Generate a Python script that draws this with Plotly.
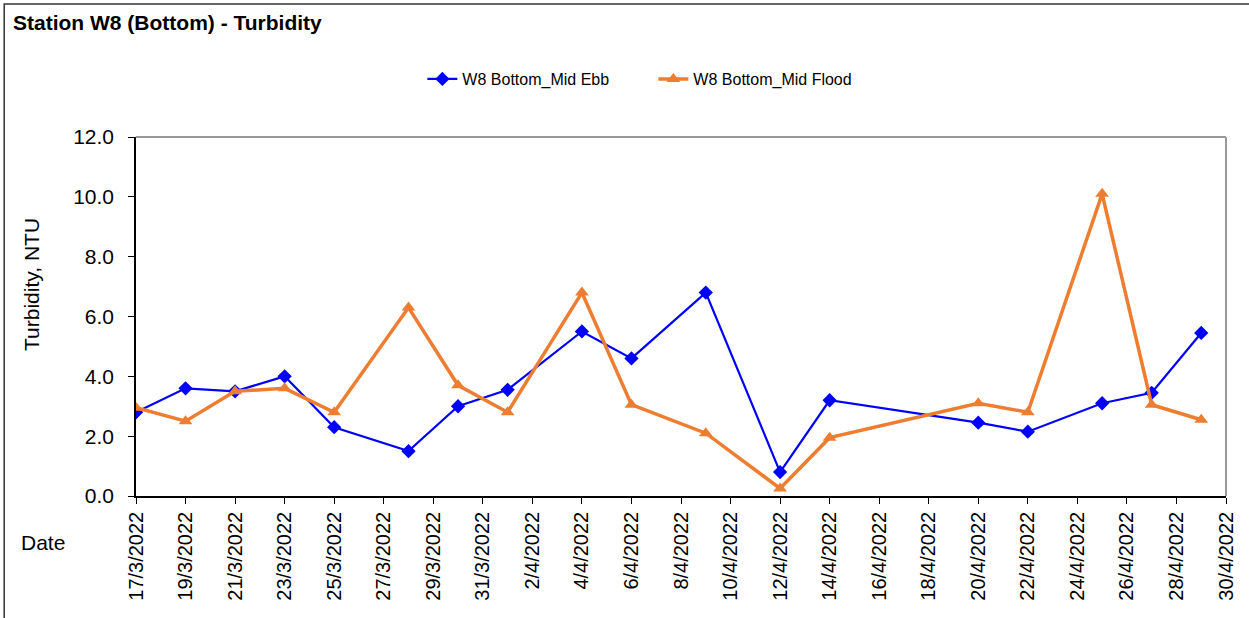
import plotly.graph_objects as go

# Sampling dates and turbidity readings (NTU)
dates = ["2022-03-17", "2022-03-19", "2022-03-21", "2022-03-23", "2022-03-25",
         "2022-03-28", "2022-03-30", "2022-04-01", "2022-04-04", "2022-04-06",
         "2022-04-09", "2022-04-12", "2022-04-14", "2022-04-20", "2022-04-22",
         "2022-04-25", "2022-04-27", "2022-04-29"]
mid_ebb = [2.8, 3.6, 3.5, 4.0, 2.3, 1.5, 3.0, 3.55, 5.5, 4.6,
           6.8, 0.8, 3.2, 2.45, 2.15, 3.1, 3.45, 5.45]
mid_flood = [2.95, 2.5, 3.5, 3.6, 2.8, 6.3, 3.7, 2.8, 6.8, 3.05,
             2.1, 0.25, 1.95, 3.1, 2.8, 10.1, 3.05, 2.55]

font_family = "Liberation Sans, Arial, sans-serif"

# plot area in pixels
L, R, T, B = 136, 1236, 137, 496
PW, PH = R - L, B - T


def px(x):
    return (x - L) / PW


def py(y):
    return (B - y) / PH


fig = go.Figure()

fig.add_trace(go.Scatter(
    x=dates, y=mid_ebb, mode="lines+markers",
    name="W8 Bottom_Mid Ebb",
    line=dict(color="#0000FF", width=2.2),
    marker=dict(symbol="diamond", size=11, color="#0000FF"),
))
fig.add_trace(go.Scatter(
    x=dates, y=mid_flood, mode="lines+markers",
    name="W8 Bottom_Mid Flood",
    line=dict(color="#ED7D31", width=3.5),
    marker=dict(symbol="triangle-up", size=12, color="#ED7D31"),
))

# outer chart border
fig.add_shape(type="rect", xref="paper", yref="paper",
              x0=px(3), x1=px(1260), y0=py(640), y1=py(4),
              line=dict(color="#333333", width=1.5), layer="below")

fig.add_annotation(text="<b>Station W8 (Bottom) - Turbidity</b>",
                   xref="paper", yref="paper", x=px(10), y=py(23),
                   xanchor="left", yanchor="middle", showarrow=False,
                   font=dict(size=21, color="black", family=font_family))
fig.add_annotation(text="Date", xref="paper", yref="paper",
                   x=px(42), y=py(542), xanchor="center", yanchor="middle",
                   showarrow=False,
                   font=dict(size=21, color="black", family=font_family))
fig.add_annotation(text="Turbidity, NTU", xref="paper", yref="paper",
                   x=px(30), y=py(284), xanchor="center", yanchor="middle",
                   textangle=-90, showarrow=False,
                   font=dict(size=21, color="black", family=font_family))

fig.update_layout(
    width=1249, height=618,
    margin=dict(l=L, r=1249 - R, t=T, b=618 - B),
    paper_bgcolor="white", plot_bgcolor="white",
    font=dict(family=font_family, color="black"),
    showlegend=True,
    legend=dict(orientation="h", x=px(425), y=py(79),
                xanchor="left", yanchor="middle",
                font=dict(size=16, color="black"),
                entrywidth=186, entrywidthmode="pixels",
                traceorder="normal"),
)

fig.update_xaxes(
    type="date",
    range=["2022-03-17", "2022-04-30"],
    tick0="2022-03-17", dtick=2 * 86400000,
    tickformat="%-d/%-m/%Y", tickangle=-90,
    tickfont=dict(size=20),
    ticks="outside", ticklen=6, tickcolor="black",
    showline=True, linecolor="black", linewidth=1.5,
    mirror=False, showgrid=False, zeroline=False,
)
fig.update_yaxes(
    range=[0, 12], dtick=2, tickformat=".1f",
    tickfont=dict(size=21), ticklabelstandoff=10,
    ticks="outside", ticklen=6, tickcolor="black",
    showline=True, linecolor="black", linewidth=1.5,
    showgrid=False, zeroline=False,
)

# grey top/right plot-area border
fig.add_shape(type="line", xref="paper", yref="paper", x0=0, x1=1, y0=1, y1=1,
              line=dict(color="#999999", width=2))
fig.add_shape(type="line", xref="paper", yref="paper", x0=1, x1=1, y0=0, y1=1,
              line=dict(color="#999999", width=2))

fig.write_html("out.html", config={"displayModeBar": False},
               post_script="document.body.style.margin='0';")
